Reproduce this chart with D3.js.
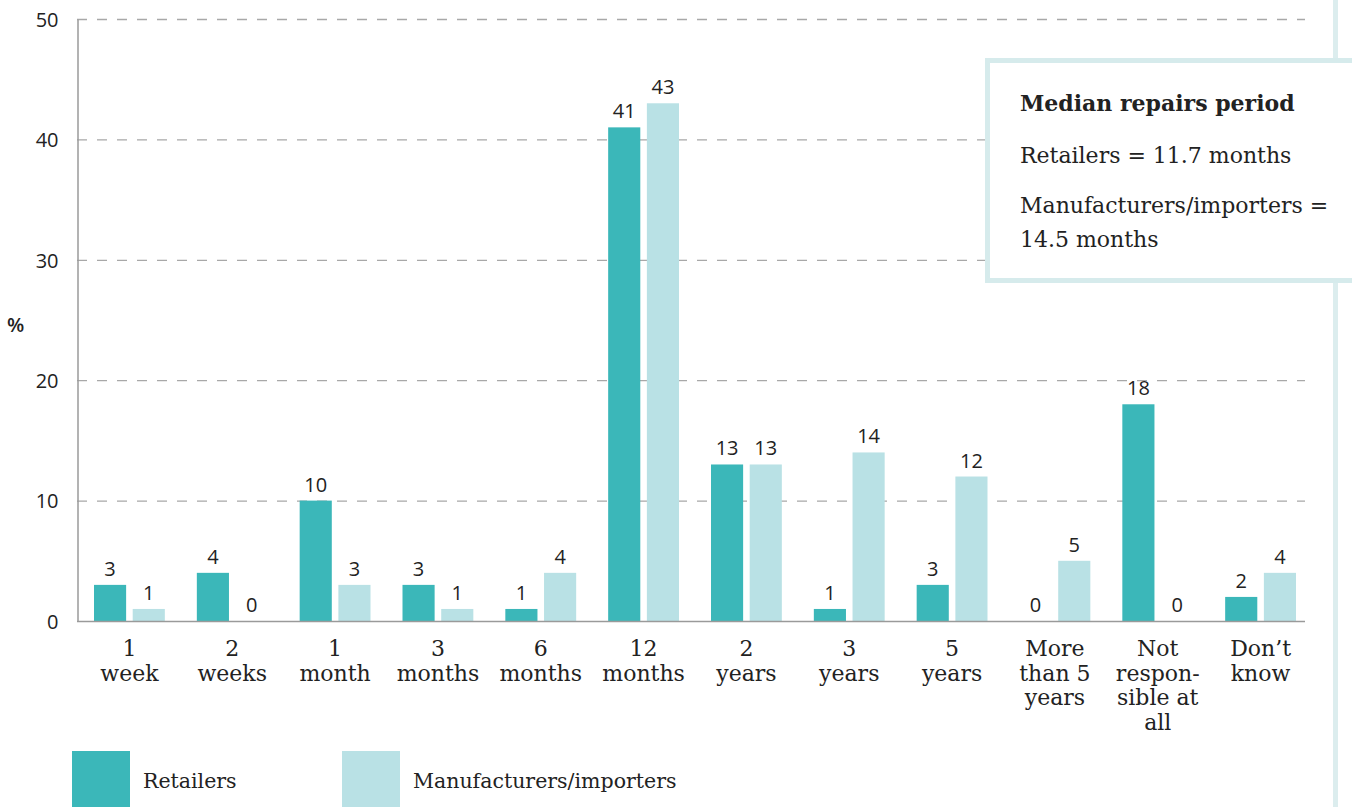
<!DOCTYPE html>
<html>
<head>
<meta charset="utf-8">
<script src="https://cdn.jsdelivr.net/npm/d3@7"></script>
<style>
  html, body { margin: 0; padding: 0; background: #fff; }
  svg { display: block; }
</style>
</head>
<body>
<svg id="chart" width="1352" height="807"></svg>
<script>
// Repair responsibility period, share of respondents (%)
const categories = [
  ["1", "week"], ["2", "weeks"], ["1", "month"], ["3", "months"], ["6", "months"],
  ["12", "months"], ["2", "years"], ["3", "years"], ["5", "years"],
  ["More", "than 5", "years"], ["Not", "respon-", "sible at", "all"], ["Don’t", "know"]
];
const retailers      = [3, 4, 10, 3, 1, 41, 13, 1, 3, 0, 18, 2];
const manufacturers  = [1, 0, 3, 1, 4, 43, 13, 14, 12, 5, 0, 4];
const seriesNames    = ["Retailers", "Manufacturers/importers"];
const yTicks         = [0, 10, 20, 30, 40, 50];
const noteTitle      = "Median repairs period";
const noteLines      = ["Retailers = 11.7 months", "Manufacturers/importers =", "14.5 months"];

const colors = ["#3bb7b9", "#b9e1e5"];
const sans = "'Open Sans', 'Noto Sans', sans-serif";
const serif = "'DejaVu Serif', 'Liberation Serif', serif";

const svg = d3.select("#chart");

const x = d3.scaleBand().domain(d3.range(categories.length)).range([78, 1312]);
const y = d3.scaleLinear().domain([0, 50]).range([621, 19]);
const inner = d3.scaleBand().domain([0, 1]).range([16, x.bandwidth() - 16]).paddingInner(0.17);

// right-hand page rule
svg.append("rect").attr("x", 1333).attr("y", 0).attr("width", 5).attr("height", 807).attr("fill", "#dcedee");

// dashed gridlines
svg.append("g").selectAll("line").data(yTicks.filter(d => d > 0)).join("line")
  .attr("x1", 77).attr("x2", 1305)
  .attr("y1", d => y(d) + 0.5).attr("y2", d => y(d) + 0.5)
  .attr("stroke", "#a8a8a8").attr("stroke-width", 1.3).attr("stroke-dasharray", "10,10");

// y axis
const yAxis = svg.append("g").attr("transform", "translate(77.5,0)")
  .call(d3.axisLeft(y).tickValues(yTicks).tickSize(0).tickPadding(19));
yAxis.select(".domain").attr("stroke", "#9a9a9a").attr("stroke-width", 1.5);
yAxis.selectAll("text").attr("font-family", sans).attr("font-size", 20).attr("fill", "#222")
  .attr("dy", "0.36em");

svg.append("text").attr("x", 7).attr("y", 332).text("%")
  .attr("font-family", sans).attr("font-size", 20).attr("font-weight", 600).attr("fill", "#222");

// bars
const groups = svg.append("g").selectAll("g").data(categories).join("g")
  .attr("transform", (d, i) => `translate(${x(i)},0)`);

[retailers, manufacturers].forEach((series, s) => {
  groups.append("rect")
    .attr("x", inner(s)).attr("width", inner.bandwidth())
    .attr("y", (d, i) => y(series[i]))
    .attr("height", (d, i) => y(0) - y(series[i]))
    .attr("fill", colors[s]);
  groups.append("text")
    .attr("x", inner(s) + inner.bandwidth() / 2)
    .attr("y", (d, i) => y(series[i]) - 9)
    .attr("text-anchor", "middle")
    .attr("font-family", sans).attr("font-size", 20).attr("fill", "#222")
    .text((d, i) => series[i]);
});

// x axis baseline
svg.append("line").attr("x1", 77).attr("x2", 1305).attr("y1", 621.5).attr("y2", 621.5)
  .attr("stroke", "#9a9a9a").attr("stroke-width", 1.5);

// category labels
groups.append("text")
  .attr("text-anchor", "middle")
  .attr("font-family", serif).attr("font-size", 22).attr("fill", "#222")
  .each(function(d) {
    d3.select(this).selectAll("tspan").data(d).join("tspan")
      .attr("x", x.bandwidth() / 2)
      .attr("y", (t, k) => 656 + k * 24.5)
      .text(t => t);
  });

// legend
const legend = svg.append("g");
[[72, 143], [342, 413]].forEach(([bx, tx], s) => {
  legend.append("rect").attr("x", bx).attr("y", 751).attr("width", 58).attr("height", 56).attr("fill", colors[s]);
  legend.append("text").attr("x", tx).attr("y", 788).text(seriesNames[s])
    .attr("font-family", serif).attr("font-size", 20.5).attr("fill", "#222");
});

// median note box
const note = svg.append("g");
note.append("rect").attr("x", 987.5).attr("y", 60.5).attr("width", 400).attr("height", 220)
  .attr("fill", "#fff").attr("stroke", "#d6ebec").attr("stroke-width", 5);
note.append("text").attr("x", 1020).attr("y", 111).text(noteTitle)
  .attr("font-family", serif).attr("font-size", 22).attr("font-weight", "bold").attr("fill", "#222");
note.append("g").selectAll("text").data(noteLines).join("text")
  .attr("x", 1020).attr("y", (d, i) => [163, 213, 247][i]).text(d => d)
  .attr("font-family", serif).attr("font-size", 22).attr("fill", "#222");
</script>
</body>
</html>
